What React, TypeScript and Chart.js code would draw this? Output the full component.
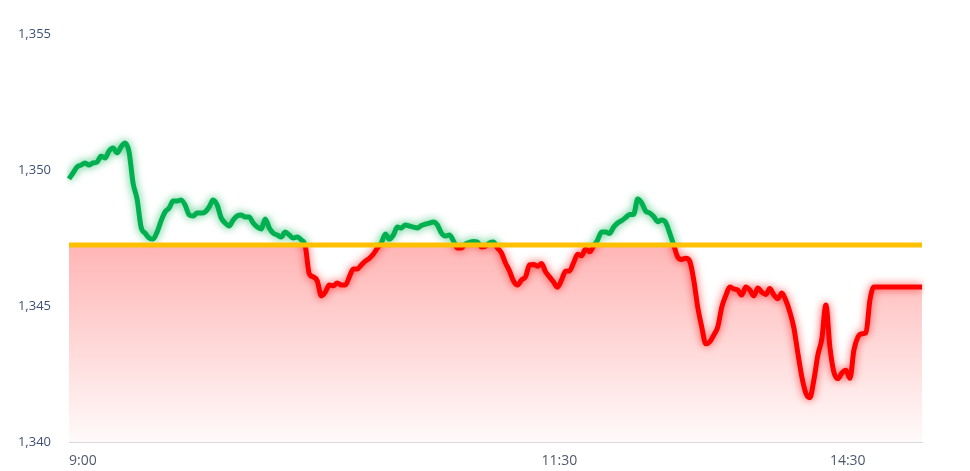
import React, { useEffect, useRef } from 'react';
import { Chart, registerables } from 'chart.js';

Chart.register(...registerables);

// Reference level (previous close)
const BASELINE = 1347.24;

// Price series, one value per sample
const prices: number[] = [
  1349.67, 1349.89, 1350.11, 1350.18, 1350.26, 1350.18, 1350.26, 1350.29, 1350.51, 1350.44,
  1350.70, 1350.81, 1350.63, 1350.85, 1350.99, 1350.66, 1349.52, 1348.93, 1347.90, 1347.68,
  1347.50, 1347.46, 1347.72, 1348.13, 1348.46, 1348.60, 1348.86, 1348.86, 1348.90, 1348.71,
  1348.35, 1348.31, 1348.42, 1348.42, 1348.46, 1348.64, 1348.90, 1348.71, 1348.24, 1348.05,
  1347.94, 1348.16, 1348.31, 1348.35, 1348.27, 1348.27, 1348.05, 1347.90, 1347.83, 1348.20,
  1347.87, 1347.68, 1347.61, 1347.54, 1347.72, 1347.61, 1347.50, 1347.54, 1347.43, 1347.21,
  1346.18, 1346.07, 1345.92, 1345.37, 1345.51, 1345.77, 1345.74, 1345.85, 1345.77, 1345.77,
  1346.07, 1346.36, 1346.36, 1346.51, 1346.65, 1346.75, 1346.91, 1347.13, 1347.32, 1347.65,
  1347.46, 1347.61, 1347.90, 1347.87, 1347.98, 1347.94, 1347.90, 1347.87, 1347.96, 1348.01,
  1348.05, 1348.09, 1347.98, 1347.68, 1347.57, 1347.61, 1347.39, 1347.13, 1347.13, 1347.28,
  1347.34, 1347.37, 1347.35, 1347.17, 1347.20, 1347.32, 1347.35, 1347.13, 1346.95, 1346.58,
  1346.29, 1345.92, 1345.77, 1345.96, 1346.07, 1346.51, 1346.53, 1346.46, 1346.56, 1346.26,
  1346.07, 1345.88, 1345.69, 1345.96, 1346.28, 1346.29, 1346.59, 1346.90, 1346.85, 1347.10,
  1346.99, 1347.21, 1347.43, 1347.72, 1347.72, 1347.67, 1347.90, 1348.05, 1348.14, 1348.25,
  1348.36, 1348.37, 1348.93, 1348.79, 1348.49, 1348.42, 1348.29, 1348.10, 1348.16, 1348.07,
  1347.68, 1347.24, 1346.80, 1346.71, 1346.76, 1346.65, 1345.96, 1344.96, 1344.23, 1343.61,
  1343.68, 1343.93, 1344.23, 1344.96, 1345.38, 1345.70, 1345.63, 1345.59, 1345.40, 1345.70,
  1345.59, 1345.37, 1345.66, 1345.51, 1345.42, 1345.64, 1345.41, 1345.27, 1345.48, 1345.21,
  1344.78, 1344.20, 1343.27, 1342.39, 1341.80, 1341.63, 1342.28, 1343.20, 1343.80, 1345.04,
  1343.49, 1342.57, 1342.33, 1342.54, 1342.64, 1342.34, 1343.38, 1343.86, 1343.98, 1344.01,
  1345.22, 1345.70, 1345.70, 1345.70, 1345.70, 1345.70, 1345.70, 1345.70, 1345.70, 1345.70,
  1345.70, 1345.70, 1345.70, 1345.70,
];

// X tick labels and the sample index where each one sits
const tickLabels = ['9:00', '11:30', '14:30'];
const tickIndices = [0, 118, 190];

// Y axis range
const yMin = 1340;
const yMax = 1355;
const yStep = 5;

const glowClipPlugin = {
  id: 'glowClip',
  beforeDatasetDraw(chart: any, args: any) {
    const ds = chart.data.datasets[args.index];
    if (!ds.clipMode) return;
    const ctx = chart.ctx;
    const yb = chart.scales.y.getPixelForValue(BASELINE);
    ctx.save();
    ctx.beginPath();
    if (ds.clipMode === 'above') ctx.rect(0, 0, chart.width, yb);
    else ctx.rect(0, yb, chart.width, chart.height - yb);
    ctx.clip();
    ctx.shadowColor = ds.glowColor;
    ctx.shadowBlur = 9;
  },
  afterDatasetDraw(chart: any, args: any) {
    const ds = chart.data.datasets[args.index];
    if (!ds.clipMode) return;
    chart.ctx.restore();
  },
};

export default function App() {
  const ref = useRef<HTMLCanvasElement>(null);

  useEffect(() => {
    if (!ref.current) return;
    const labels = prices.map((_, i) => {
      const k = tickIndices.indexOf(i);
      return k >= 0 ? tickLabels[k] : '';
    });
    const baseData = prices.map(() => BASELINE);
    const fillData = prices.map((v) => Math.min(v, BASELINE));

    const chart = new Chart(ref.current, {
      type: 'line',
      data: {
        labels,
        datasets: [
          {
            label: 'base',
            data: baseData,
            borderColor: '#ffc000',
            borderWidth: 5,
            pointRadius: 0,
            fill: false,
          },
          {
            label: 'up',
            data: prices,
            borderColor: '#00b050',
            borderWidth: 5,
            pointRadius: 0,
            fill: false,
            cubicInterpolationMode: 'monotone',
            clipMode: 'above',
            glowColor: 'rgba(0,176,80,0.75)',
          } as any,
          {
            label: 'down',
            data: prices,
            borderColor: '#ff0000',
            borderWidth: 5,
            pointRadius: 0,
            fill: false,
            cubicInterpolationMode: 'monotone',
            clipMode: 'below',
            glowColor: 'rgba(255,0,0,0.7)',
          } as any,
          {
            label: 'area',
            data: fillData,
            borderWidth: 0,
            borderColor: 'rgba(0,0,0,0)',
            pointRadius: 0,
            cubicInterpolationMode: 'monotone',
            fill: 'start',
            backgroundColor: (c: any) => {
              const ch = c.chart;
              const area = ch.chartArea;
              if (!area) return 'rgba(255,0,0,0.2)';
              const yb = ch.scales.y.getPixelForValue(BASELINE);
              const g = ch.ctx.createLinearGradient(0, yb, 0, area.bottom);
              g.addColorStop(0, 'rgba(255,0,0,0.29)');
              g.addColorStop(1, 'rgba(255,0,0,0.02)');
              return g;
            },
          },
        ],
      },
      options: {
        responsive: false,
        animation: false,
        devicePixelRatio: 1,
        layout: { padding: { top: 34, right: 48, bottom: 0, left: 0 } },
        plugins: {
          legend: { display: false },
          tooltip: { enabled: false },
        },
        scales: {
          x: {
            type: 'category',
            grid: { display: false, drawTicks: false },
            border: { display: true, color: '#d9d9d9', width: 1 },
            ticks: {
              autoSkip: false,
              maxRotation: 0,
              minRotation: 0,
              align: 'start',
              padding: 11,
              color: '#505a6b',
              font: { family: 'Open Sans', size: 14 },
            },
            afterFit: (s: any) => {
              s.height = 29;
            },
          },
          y: {
            min: yMin,
            max: yMax,
            grid: { display: false, drawTicks: false },
            border: { display: false },
            ticks: {
              stepSize: yStep,
              padding: 18,
              color: '#3f5073',
              font: { family: 'Open Sans', size: 13 },
              callback: (v: any) => Number(v).toLocaleString('en-US'),
            },
            afterFit: (s: any) => {
              s.width = 69;
            },
          },
        },
      },
      plugins: [glowClipPlugin],
    } as any);

    return () => chart.destroy();
  }, []);

  return (
    <div style={{ position: 'fixed', left: 0, top: 0, width: 970, height: 471, background: '#ffffff' }}>
      <canvas ref={ref} width={970} height={471} style={{ display: 'block' }} />
    </div>
  );
}
